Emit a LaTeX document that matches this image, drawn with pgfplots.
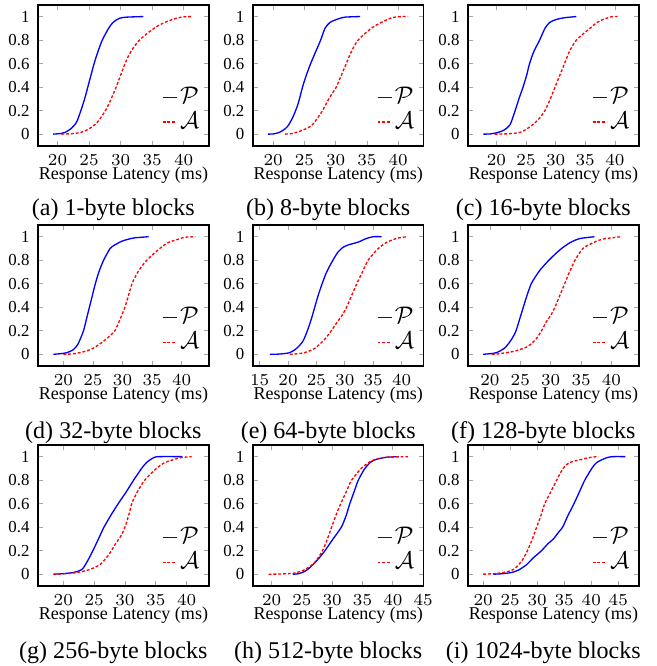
\documentclass[border=0pt]{standalone}
\usepackage{pgfplots}
\pgfplotsset{compat=1.18}
\usepackage{fontspec}
\setmainfont{Liberation Serif}

\definecolor{pcol}{RGB}{0,0,255}
\definecolor{acol}{RGB}{255,0,0}

\pgfplotsset{
  cdf/.style={
    scale only axis,
    width=71.1pt, height=58.7pt,
    anchor=south west,
    ymin=-0.1, ymax=1.1,
    ytick={0,0.2,0.4,0.6,0.8,1},
    yticklabels={0,0.2,0.4,0.6,0.8,1},
    axis line style={line width=0.6pt},
    tick style={gray!70, line width=0.3pt},
    major tick length=2pt,
    tick label style={font=\fontsize{7}{8}\selectfont},
    xlabel={Response Latency (ms)},
    xlabel style={font=\fontsize{7.5}{8}\selectfont, yshift=6pt},
    legend cell align=left,
    legend style={draw=none, fill=none, at={(0.975,0.06)}, anchor=south east,
      font=\fontsize{10}{11}\selectfont, inner sep=1pt, row sep=0pt,
      nodes={inner xsep=1pt, inner ysep=1pt}},
    legend image code/.code={\draw[#1] (-1.5pt,0pt) -- (4.5pt,0pt);},
  },
  pline/.style={pcol, line width=0.55pt, smooth, tension=0.45},
  aline/.style={acol, line width=0.55pt, dash pattern=on 1.2pt off 0.8pt, smooth, tension=0.45},
}
\tikzset{subcap/.style={font=\fontsize{10}{12}\selectfont, anchor=center}}

\begin{document}
\begin{tikzpicture}
\useasboundingbox (0pt,0pt) rectangle (273.3pt,-277.1pt);

% ---- row 1 ----
\begin{axis}[cdf, name=pa, at={(15.8pt,-60.7pt)}, xmin=16.9, xmax=44, xtick={20,25,30,35,40}]
\addplot[pline] coordinates {(19.3,0) (20.5,0.005) (21.2,0.015) (22.1,0.045) (23,0.1) (23.7,0.2) (24.3,0.3) (24.8,0.4) (25.3,0.5) (25.8,0.6) (26.4,0.7) (27.1,0.8) (28.1,0.9) (28.8,0.95) (29.8,0.985) (31,0.995) (33.6,1)};
\addplot[aline] coordinates {(20.6,0) (22,0.003) (23,0.008) (24,0.02) (25,0.045) (26.3,0.1) (27.6,0.2) (28.5,0.3) (29.3,0.4) (30,0.5) (30.7,0.6) (31.6,0.7) (33,0.8) (35.3,0.9) (37,0.95) (38.8,0.985) (40,0.997) (41.4,1)};
\legend{$\mathcal{P}$,$\mathcal{A}$}
\end{axis}
\node[subcap] at ([xshift=-4.2pt,yshift=-26.6pt]pa.south) {(a) 1-byte blocks};

\begin{axis}[cdf, name=pb, at={(105.2pt,-60.7pt)}, xmin=16.75, xmax=44.1, xtick={20,25,30,35,40}]
\addplot[pline] coordinates {(19.2,0) (20.2,0.003) (21.2,0.02) (22.3,0.065) (23.2,0.15) (24,0.26) (24.7,0.4) (25.3,0.5) (26,0.6) (26.8,0.7) (27.6,0.8) (28.3,0.9) (29.1,0.95) (30.4,0.98) (31.5,0.995) (33.9,1)};
\addplot[aline] coordinates {(21.9,0) (23,0.005) (24,0.02) (25,0.04) (26.1,0.07) (27,0.13) (27.9,0.2) (28.8,0.29) (29.5,0.35) (30.1,0.4) (30.9,0.5) (31.7,0.6) (32.5,0.7) (33.6,0.8) (35.7,0.9) (37.3,0.95) (39,0.99) (40.5,1) (41.6,1)};
\legend{$\mathcal{P}$,$\mathcal{A}$}
\end{axis}
\node[subcap] at ([xshift=-4.2pt,yshift=-26.6pt]pb.south) {(b) 8-byte blocks};

\begin{axis}[cdf, name=pc, at={(194.7pt,-60.7pt)}, xmin=15.2, xmax=44.05, xtick={20,25,30,35,40}]
\addplot[pline] coordinates {(17.8,0) (19,0.002) (20.3,0.015) (21.3,0.035) (22.3,0.08) (23.1,0.19) (23.8,0.3) (24.5,0.4) (25.1,0.5) (25.6,0.6) (26.3,0.7) (27.3,0.8) (28.2,0.9) (29,0.95) (30.1,0.975) (31.5,0.99) (33.5,1)};
\addplot[aline] coordinates {(19.7,0) (22,0.003) (24,0.015) (25.6,0.06) (27,0.12) (28.2,0.2) (29.1,0.3) (29.9,0.4) (30.7,0.5) (31.5,0.6) (32.3,0.7) (33.5,0.8) (35.8,0.9) (37,0.95) (38,0.975) (39.4,0.998) (40.6,1)};
\legend{$\mathcal{P}$,$\mathcal{A}$}
\end{axis}
\node[subcap] at ([xshift=-4.2pt,yshift=-26.6pt]pc.south) {(c) 16-byte blocks};

% ---- row 2 ----
\begin{axis}[cdf, name=pd, at={(15.8pt,-152.3pt)}, xmin=15.7, xmax=44.6, xtick={20,25,30,35,40}]
\addplot[pline] coordinates {(18.3,0) (19.5,0.005) (20.6,0.014) (21.7,0.04) (22.5,0.09) (23.4,0.2) (23.9,0.3) (24.4,0.4) (24.9,0.5) (25.4,0.6) (26,0.7) (26.8,0.8) (27.9,0.9) (28.7,0.93) (29.8,0.96) (30.7,0.975) (32,0.99) (34.4,1)};
\addplot[aline] coordinates {(20,0) (21.5,0.003) (22.8,0.014) (24,0.03) (25,0.05) (26.5,0.1) (27.7,0.15) (28.7,0.2) (29.6,0.3) (30.4,0.4) (31,0.5) (31.6,0.6) (32.6,0.7) (34.1,0.8) (36.3,0.9) (37.7,0.95) (39.2,0.975) (40.5,0.995) (42.3,1)};
\legend{$\mathcal{P}$,$\mathcal{A}$}
\end{axis}
\node[subcap] at ([xshift=-4.2pt,yshift=-27.9pt]pd.south) {(d) 32-byte blocks};

\begin{axis}[cdf, name=pe, at={(105.2pt,-152.3pt)}, xmin=13.8, xmax=43.9, xtick={15,20,25,30,35,40}]
\addplot[pline] coordinates {(16.8,0) (18.5,0.002) (20.3,0.014) (21.5,0.05) (22.6,0.11) (23.4,0.2) (24.1,0.3) (24.7,0.4) (25.3,0.5) (26,0.6) (26.8,0.7) (27.9,0.8) (28.8,0.87) (29.7,0.91) (30.6,0.93) (32.4,0.955) (33.8,0.985) (35,1) (36.5,1)};
\addplot[aline] coordinates {(20.3,0) (21.5,0.004) (22.9,0.014) (24.7,0.05) (26.5,0.13) (27.6,0.2) (28.6,0.27) (29.5,0.33) (30.3,0.4) (31.2,0.5) (32.1,0.6) (33.1,0.7) (34.1,0.8) (35.9,0.9) (37.3,0.95) (38.2,0.97) (39.5,0.99) (40.9,1)};
\legend{$\mathcal{P}$,$\mathcal{A}$}
\end{axis}
\node[subcap] at ([xshift=-4.2pt,yshift=-27.9pt]pe.south) {(e) 64-byte blocks};

\begin{axis}[cdf, name=pf, at={(194.7pt,-152.3pt)}, xmin=16.4, xmax=44.5, xtick={20,25,30,35,40}]
\addplot[pline] coordinates {(18.9,0) (20,0.005) (21.1,0.014) (22.5,0.056) (23.6,0.13) (24.3,0.2) (24.9,0.3) (25.5,0.4) (26.1,0.5) (26.8,0.6) (27.5,0.66) (28.3,0.72) (29.7,0.8) (30.7,0.85) (31.8,0.9) (33.2,0.95) (34.5,0.98) (35.5,0.99) (37.2,1)};
\addplot[aline] coordinates {(20.3,0) (21.5,0.004) (22.7,0.014) (24,0.025) (24.9,0.04) (26,0.06) (26.6,0.08) (27.6,0.13) (28.5,0.2) (29.2,0.27) (30,0.33) (30.7,0.4) (31.5,0.5) (32.3,0.6) (33.1,0.7) (34,0.8) (35.3,0.9) (37,0.95) (38.6,0.98) (41.6,1)};
\legend{$\mathcal{P}$,$\mathcal{A}$}
\end{axis}
\node[subcap] at ([xshift=-4.2pt,yshift=-27.9pt]pf.south) {(f) 128-byte blocks};

% ---- row 3 ----
\begin{axis}[cdf, name=pg, at={(15.8pt,-243.8pt)}, xmin=15.9, xmax=43.6, xtick={20,25,30,35,40}]
\addplot[pline] coordinates {(18.4,0) (20,0.005) (21.6,0.014) (23,0.04) (23.8,0.1) (24.8,0.2) (25.7,0.3) (26.6,0.4) (27.7,0.5) (28.9,0.6) (30.2,0.7) (31.4,0.8) (32.7,0.9) (33.5,0.95) (34.6,0.99) (35.5,1) (39.3,1)};
\addplot[aline] coordinates {(18.4,0) (20,0.003) (22.2,0.014) (24.3,0.04) (25.9,0.08) (27,0.14) (27.8,0.2) (28.6,0.27) (29.4,0.33) (30,0.4) (30.6,0.5) (31.1,0.6) (32,0.7) (33.2,0.8) (35.1,0.9) (36.5,0.95) (38.9,0.99) (40.8,1)};
\legend{$\mathcal{P}$,$\mathcal{A}$}
\end{axis}
\node[subcap] at ([xshift=-4.2pt,yshift=-27.9pt]pg.south) {(g) 256-byte blocks};

\begin{axis}[cdf, name=ph, at={(105.2pt,-243.8pt)}, xmin=16.9, xmax=45.1, xtick={20,25,30,35,40,45}]
\addplot[pline] coordinates {(23.5,0) (24.5,0.005) (25.5,0.025) (26.3,0.056) (27.7,0.13) (28.8,0.2) (30,0.29) (31.5,0.4) (32.3,0.5) (32.9,0.6) (33.6,0.7) (34.3,0.8) (35.4,0.9) (36.5,0.96) (37.5,0.98) (39,0.995) (41,1)};
\addplot[aline] coordinates {(19.5,0) (21.5,0.002) (23.8,0.01) (25.5,0.04) (27.1,0.1) (28.4,0.2) (29.2,0.3) (29.9,0.4) (30.6,0.5) (31.4,0.6) (32.3,0.7) (33.2,0.8) (34.8,0.9) (36,0.95) (36.8,0.97) (38.1,0.99) (40,0.998) (42.8,1)};
\legend{$\mathcal{P}$,$\mathcal{A}$}
\end{axis}
\node[subcap] at ([xshift=-4.2pt,yshift=-27.9pt]ph.south) {(h) 512-byte blocks};

\begin{axis}[cdf, name=pi, at={(194.7pt,-243.8pt)}, xmin=17.2, xmax=48.8, xtick={20,25,30,35,40,45}]
\addplot[pline] coordinates {(21.9,0) (23.5,0.004) (25.2,0.014) (26.5,0.034) (28,0.08) (29.3,0.14) (30.8,0.2) (32,0.26) (33,0.3) (34,0.36) (34.7,0.4) (35.7,0.5) (36.8,0.6) (37.8,0.7) (38.8,0.8) (40.1,0.9) (41,0.95) (42.8,0.99) (44,1) (46.3,1)};
\addplot[aline] coordinates {(20,0) (22,0.005) (23.7,0.014) (25.6,0.04) (27.1,0.11) (28.2,0.2) (29.1,0.3) (29.9,0.4) (30.7,0.5) (31.4,0.6) (32.5,0.7) (33.6,0.8) (34.8,0.9) (36,0.95) (38.5,0.98) (40,0.995) (41.3,1)};
\legend{$\mathcal{P}$,$\mathcal{A}$}
\end{axis}
\node[subcap] at ([xshift=-4.2pt,yshift=-27.9pt]pi.south) {(i) 1024-byte blocks};
\end{tikzpicture}
\end{document}
